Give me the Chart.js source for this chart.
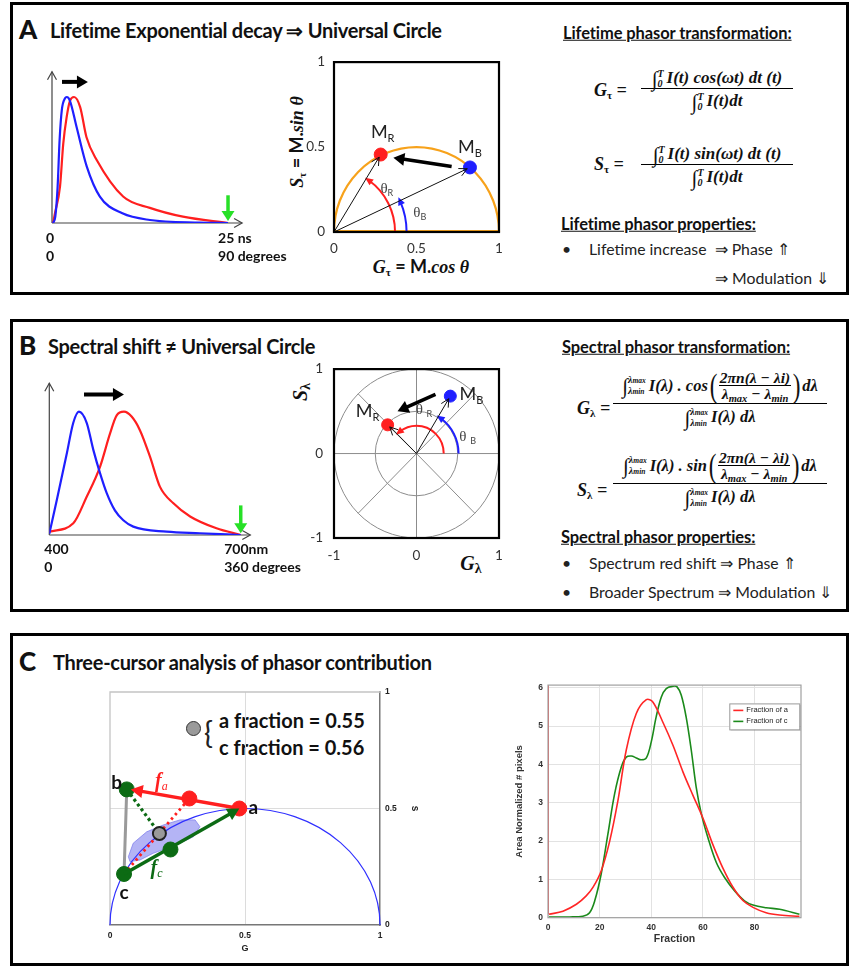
<!DOCTYPE html>
<html>
<head>
<meta charset="utf-8">
<script src="https://cdn.jsdelivr.net/npm/chart.js@4.4.1/dist/chart.umd.min.js"></script>
<style>
html,body{margin:0;padding:0;}
body{width:852px;height:966px;position:relative;background:#fff;overflow:hidden;font-family:"Lato","Open Sans",sans-serif;color:#111;}
#stage{position:absolute;left:0;top:0;width:852px;height:966px;}
.panel{position:absolute;border:3px solid #000;box-sizing:border-box;}
.t{position:absolute;white-space:nowrap;line-height:1;}
.c{transform:translateY(-50%);}
.lt{font-weight:900;font-size:26px;}
.tt{font-weight:bold;font-size:20px;letter-spacing:-0.3px;}
.hd{font-weight:bold;font-size:16.5px;text-decoration:underline;letter-spacing:-0.1px;}
.tx{font-size:15.8px;color:#222;}
.f{font-family:"Liberation Serif","DejaVu Serif",serif;font-weight:bold;font-style:italic;font-size:17px;}
.fb{font-size:16.5px;}
.frac{position:absolute;text-align:center;}
.frac .num{height:20px;line-height:20px;border-bottom:1.4px solid #000;white-space:nowrap;}
.frac .num2{height:34px;display:flex;align-items:center;justify-content:center;border-bottom:1.4px solid #000;white-space:nowrap;}
.frac .den{line-height:20px;padding-top:2px;white-space:nowrap;}
.int{font-size:21px;font-style:italic;font-weight:normal;vertical-align:middle;}
.lim{display:inline-flex;flex-direction:column;font-size:10px;line-height:10px;vertical-align:middle;margin-right:3px;text-align:left;}
.lim .ss{font-size:7.5px;}
.sb{font-size:11px;position:relative;top:3px;font-style:normal;}
.inner{display:inline-flex;flex-direction:column;align-items:center;font-size:15.5px;line-height:15px;}
.inner .in{border-bottom:1.3px solid #000;padding:0 1px;}
.inner .ss{font-size:10.5px;position:relative;top:3px;}
.bp{font-size:33px;font-weight:normal;font-style:normal;line-height:33px;display:inline-block;transform:scaleX(0.7);}
.rot{transform:translate(-50%,-50%) rotate(-90deg);}
.ctr{transform:translate(-50%,-50%);}
canvas{position:absolute;}
</style>
</head>
<body>
<div id="stage">
  <div class="panel" style="left:10px;top:2px;width:839px;height:293px;"></div>
  <div class="panel" style="left:10px;top:319px;width:839px;height:293px;"></div>
  <div class="panel" style="left:10px;top:633px;width:839px;height:333px;"></div>

  <!-- Panel A texts -->
  <div class="t c lt" style="left:19px;top:29px;">A</div>
  <div class="t c tt" style="left:50px;top:30px;">Lifetime Exponential decay ⇒ Universal Circle</div>
  <div class="t c hd" style="left:563px;top:33px;">Lifetime phasor transformation:</div>

  <div class="t c f" style="left:594px;top:90px;font-size:18px;">G<span class="sb">τ</span> =</div>
  <div class="f frac" style="left:641px;top:68px;width:152px;">
    <div class="num"><span class="int">∫</span><span class="lim"><span>T</span><span>0</span></span>I(t) cos(ωt) dt (t)</div>
    <div class="den"><span class="int">∫</span><span class="lim"><span>T</span><span>0</span></span>I(t)dt</div>
  </div>
  <div class="t c f" style="left:594px;top:164px;font-size:18px;">S<span class="sb">τ</span> =</div>
  <div class="f frac" style="left:641px;top:144px;width:152px;">
    <div class="num"><span class="int">∫</span><span class="lim"><span>T</span><span>0</span></span>I(t) sin(ωt) dt (t)</div>
    <div class="den"><span class="int">∫</span><span class="lim"><span>T</span><span>0</span></span>I(t)dt</div>
  </div>

  <div class="t c hd" style="left:561px;top:224px;">Lifetime phasor properties:</div>
  <div class="t c tx" style="left:562px;top:249px;">•</div>
  <div class="t c tx" style="left:589px;top:249px;">Lifetime increase&nbsp; ⇒ Phase ⇑</div>
  <div class="t c tx" style="left:715px;top:278px;">⇒ Modulation ⇓</div>

  <div class="t ctr f" style="left:421px;top:266px;font-size:18px;">G<span class="sb">τ</span><span style="font-family:Lato;font-style:normal"> = M.</span>cos θ</div>
  <div class="t rot f" style="left:296px;top:142px;font-size:18px;">S<span class="sb">τ</span><span style="font-family:Lato;font-style:normal"> = M.</span>sin θ</div>

  <!-- Panel B texts -->
  <div class="t c lt" style="left:19px;top:345px;">B</div>
  <div class="t c tt" style="left:48px;top:346px;">Spectral shift ≠ Universal Circle</div>
  <div class="t c hd" style="left:562px;top:347px;">Spectral phasor transformation:</div>

  <div class="t c f" style="left:577px;top:408px;font-size:18px;">G<span class="sb">λ</span> =</div>
  <div class="f fb frac" style="left:613px;top:369px;width:214px;">
    <div class="num2"><span class="int">∫</span><span class="lim"><span>λ<span class="ss">max</span></span><span>λ<span class="ss">min</span></span></span><span>I(λ) . cos</span><span class="bp">(</span><span class="inner"><span class="in">2πn(λ − λi)</span><span>λ<span class="ss">max</span> − λ<span class="ss">min</span></span></span><span class="bp">)</span><span>dλ</span></div>
    <div class="den" style="padding-top:3px;"><span class="int">∫</span><span class="lim"><span>λ<span class="ss">max</span></span><span>λ<span class="ss">min</span></span></span>I(λ) dλ</div>
  </div>
  <div class="t c f" style="left:577px;top:490px;font-size:18px;">S<span class="sb">λ</span> =</div>
  <div class="f fb frac" style="left:613px;top:449px;width:214px;">
    <div class="num2"><span class="int">∫</span><span class="lim"><span>λ<span class="ss">max</span></span><span>λ<span class="ss">min</span></span></span><span>I(λ) . sin</span><span class="bp">(</span><span class="inner"><span class="in">2πn(λ − λi)</span><span>λ<span class="ss">max</span> − λ<span class="ss">min</span></span></span><span class="bp">)</span><span>dλ</span></div>
    <div class="den" style="padding-top:3px;"><span class="int">∫</span><span class="lim"><span>λ<span class="ss">max</span></span><span>λ<span class="ss">min</span></span></span>I(λ) dλ</div>
  </div>

  <div class="t c hd" style="left:561px;top:537px;">Spectral phasor properties:</div>
  <div class="t c tx" style="left:562px;top:563px;">•</div>
  <div class="t c tx" style="left:589px;top:563px;">Spectrum red shift ⇒ Phase ⇑</div>
  <div class="t c tx" style="left:562px;top:592px;">•</div>
  <div class="t c tx" style="left:589px;top:592px;">Broader Spectrum ⇒ Modulation ⇓</div>

  <div class="t rot f" style="left:300px;top:392px;font-size:20px;">S<span class="sb" style="font-size:14px">λ</span></div>
  <div class="t ctr f" style="left:471px;top:563px;font-size:20px;">G<span class="sb" style="font-size:14px">λ</span></div>

  <!-- Panel C texts -->
  <div class="t c lt" style="left:19px;top:661px;">C</div>
  <div class="t c tt" style="left:53px;top:662px;">Three-cursor analysis of phasor contribution</div>
  <div style="position:absolute;left:186px;top:721px;width:15px;height:15px;border-radius:50%;background:#9a9a9a;border:1.8px solid #333;box-sizing:border-box;"></div>
  <div class="t c" style="left:204px;top:732px;font-size:30px;font-weight:400;color:#222;">{</div>
  <div class="t c" id="fracA" style="left:219px;top:720px;font-size:20px;font-weight:bold;"></div>
  <div class="t c" id="fracC" style="left:219px;top:747px;font-size:20px;font-weight:bold;"></div>
</div>

<script>
// ---------------- DATA ----------------
// Panel A: lifetime decay curves (time ns, normalised intensity)
const lifetimeBlueTime = [0.15, 0.47, 0.8, 1.08, 1.4, 1.85, 2.1, 2.55, 3.5, 4.93, 6.8, 10.0, 13.9, 21.0, 25.0];
const lifetimeBlueIntensity = [0, 0.05, 0.29, 0.66, 0.9, 0.99, 1.0, 0.97, 0.76, 0.45, 0.21, 0.077, 0.024, 0.003, 0];
const lifetimeRedTime = [0.15, 0.43, 1.14, 1.6, 2.08, 2.55, 3.13, 4.0, 4.9, 6.35, 10.1, 13.9, 18.6, 25.0];
const lifetimeRedIntensity = [0, 0.08, 0.29, 0.63, 0.84, 0.97, 1.0, 0.92, 0.68, 0.5, 0.21, 0.12, 0.05, 0];
const lifetimeTickValues = [0, 25];
const lifetimeTickLabels = [['0', '0'], ['25 ns', '90 degrees']];
const lifetimeShiftArrow = [1.42, 5.1, 1.12];      // from t, to t, at intensity
const lifetimeEndMarker = [25, 0.22, 0.015];       // at t, from, to

// Panel A: lifetime phasor plot
const lifetimePhasorNames = ['R', 'B'];
const lifetimePhasorG = [0.283, 0.824];
const lifetimePhasorS = [0.456, 0.380];
const lifetimeShiftG = [0.713, 0.36];
const lifetimeShiftS = [0.386, 0.4375];
const lifetimeArcRadius = [0.37, 0.44];
const lifetimeArcDegrees = [55, 24];
const lifetimeAxisTicks = [0, 0.5, 1];

// Panel B: emission spectra (wavelength nm, normalised intensity)
const spectrumBlueNm = [400, 411.6, 427, 437.6, 446.4, 458.6, 469, 479.6, 490, 502.8, 516, 531.6, 583.9, 636, 700];
const spectrumBlueIntensity = [0.01, 0.28, 0.65, 0.91, 1.0, 0.91, 0.69, 0.5, 0.34, 0.2, 0.12, 0.068, 0.027, 0.014, 0];
const spectrumRedNm = [400, 437.6, 458.6, 479.6, 495, 505.6, 517, 529, 542, 557.8, 573.5, 594.5, 620.7, 662, 700];
const spectrumRedIntensity = [0.027, 0.095, 0.31, 0.555, 0.82, 0.97, 1.0, 0.96, 0.85, 0.635, 0.39, 0.257, 0.15, 0.054, 0];
const spectrumTickValues = [400, 700];
const spectrumTickLabels = [['400', '0'], ['700nm', '360 degrees']];
const spectrumShiftArrow = [454.4, 517, 1.14];
const spectrumEndMarker = [700, 0.24, 0.015];

// Panel B: spectral phasor plot
const spectralPhasorNames = ['R', 'B'];
const spectralPhasorG = [-0.35, 0.41];
const spectralPhasorS = [0.34, 0.68];
const spectralShiftG = [0.23, -0.23];
const spectralShiftS = [0.70, 0.50];
const spectralArcRadius = [0.33, 0.51];
const spectralArcDegrees = [128, 55];
const spectralRings = [0.5, 1];
const spectralSpokes = [45, 135, 225, 315];
const spectralAxisTicks = [-1, 0, 1];

// Panel C: three-cursor phasor plot
const cursorNames = ['a', 'b', 'c'];
const cursorG = [0.479, 0.062, 0.052];
const cursorS = [0.500, 0.582, 0.219];
const fractionPointNames = ['a', 'c'];
const fractionPointG = [0.294, 0.224];
const fractionPointS = [0.543, 0.324];
const pixelG = [0.183];
const pixelS = [0.393];
const pixelFractions = [0.55, 0.56];
const cloudG = [0.068, 0.086, 0.136, 0.197, 0.259, 0.315, 0.333, 0.309, 0.259, 0.210, 0.160, 0.111, 0.074];
const cloudS = [0.293, 0.351, 0.400, 0.429, 0.451, 0.451, 0.422, 0.379, 0.351, 0.329, 0.308, 0.279, 0.272];
const phasorCTicks = [0, 0.5, 1];

// Panel C: fraction histograms
const fractionAX = [0.4, 5.8, 11, 14.8, 17.4, 20.6, 23.9, 27.1, 30.3, 34.2, 38.1, 40.6, 44.5, 48.4, 52.3, 56.1, 60, 63.9, 67.7, 71.6, 75.5, 79.4, 84.5, 89.7, 97.4];
const fractionAY = [0.09, 0.17, 0.35, 0.57, 0.79, 1.22, 2.0, 3.06, 4.37, 5.33, 5.69, 5.63, 5.1, 4.5, 3.8, 3.2, 2.6, 1.9, 1.3, 0.8, 0.45, 0.27, 0.13, 0.07, 0.035];
const fractionASpikeX = [0, 0];
const fractionASpikeY = [0.09, 6.07];
const fractionCX = [0.4, 8.4, 13.5, 16.1, 18.1, 20.6, 23.2, 25.8, 28.4, 30.3, 32.3, 34.2, 36.1, 38.1, 40, 41.9, 43.9, 45.8, 48.4, 49.9, 51.6, 53.5, 55.5, 57.4, 59.4, 61.9, 65.2, 68.4, 72.3, 76.1, 79.4, 84.5, 89.7, 97.4];
const fractionCY = [0.02, 0.02, 0.04, 0.13, 0.44, 1.14, 2.18, 3.23, 3.93, 4.19, 4.22, 4.17, 4.12, 4.17, 4.59, 5.24, 5.76, 5.98, 6.04, 6.03, 5.81, 5.24, 4.37, 3.41, 2.71, 2.10, 1.44, 1.05, 0.70, 0.44, 0.33, 0.26, 0.22, 0.09];
const histXTicks = [0, 20, 40, 60, 80];
const histYTicks = [0, 1, 2, 3, 4, 5, 6];
const histSeriesNames = ['Fraction of a', 'Fraction of c'];

// ---------------- HELPERS ----------------
Chart.defaults.font.family = 'Lato, "Open Sans", sans-serif';
Chart.defaults.animation = false;
Chart.defaults.responsive = false;
Chart.defaults.events = [];
Chart.defaults.plugins.legend.display = false;
Chart.defaults.plugins.tooltip.enabled = false;

const RED = '#ff1f1f', BLUE = '#1f1fff', ORANGE = '#f7a21b', DGREEN = '#0c6b14', LGREEN = '#27e027';

document.getElementById('fracA').textContent = 'a fraction = ' + pixelFractions[0].toFixed(2);
document.getElementById('fracC').textContent = 'c fraction = ' + pixelFractions[1].toFixed(2);

function zip(xs, ys) { return xs.map((x, i) => ({x: x, y: ys[i]})); }
function place(id, r) {
  const c = document.createElement('canvas');
  c.id = id; c.width = r.w; c.height = r.h;
  Object.assign(c.style, {left: r.x + 'px', top: r.y + 'px', width: r.w + 'px', height: r.h + 'px'});
  document.getElementById('stage').appendChild(c);
  return c;
}
function padFor(r, a, ax) {
  ax = Object.assign({left: 0, right: 0, top: 0, bottom: 0}, ax || {});
  return {left: a.l - r.x - ax.left, top: a.t - r.y - ax.top, right: r.x + r.w - a.r - ax.right, bottom: r.y + r.h - a.b - ax.bottom};
}
function fixSize(n) { return s => { if (s.isHorizontal()) s.height = n; else s.width = n; }; }
function setTicks(vals) { return s => { s.ticks = vals.map(v => ({value: v})); }; }

function arrow(ctx, x1, y1, x2, y2, o) {
  o = Object.assign({color: '#000', width: 1, head: 8, headW: null, open: false, dash: null}, o || {});
  const ang = Math.atan2(y2 - y1, x2 - x1);
  const hw = o.headW == null ? o.head * 0.5 : o.headW;
  ctx.save();
  ctx.strokeStyle = o.color; ctx.fillStyle = o.color; ctx.lineWidth = o.width; ctx.lineCap = 'butt';
  if (o.dash) ctx.setLineDash(o.dash);
  const back = o.open ? 0 : o.head * 0.7;
  ctx.beginPath(); ctx.moveTo(x1, y1);
  ctx.lineTo(x2 - Math.cos(ang) * back, y2 - Math.sin(ang) * back); ctx.stroke();
  ctx.setLineDash([]);
  const bx = x2 - Math.cos(ang) * o.head, by = y2 - Math.sin(ang) * o.head;
  const nx = -Math.sin(ang) * hw, ny = Math.cos(ang) * hw;
  ctx.beginPath(); ctx.moveTo(bx + nx, by + ny); ctx.lineTo(x2, y2); ctx.lineTo(bx - nx, by - ny);
  if (o.open) { ctx.lineWidth = Math.max(1, o.width); ctx.stroke(); } else { ctx.closePath(); ctx.fill(); }
  ctx.restore();
}
function arcArrow(ctx, cx, cy, rx, ry, deg, color, width, head) {
  const a1 = deg * Math.PI / 180;
  ctx.save(); ctx.strokeStyle = color; ctx.fillStyle = color; ctx.lineWidth = width;
  ctx.beginPath(); ctx.ellipse(cx, cy, rx, ry, 0, 0, -a1, true); ctx.stroke();
  const ex = cx + rx * Math.cos(a1), ey = cy - ry * Math.sin(a1);
  let tx = -rx * Math.sin(a1), ty = -ry * Math.cos(a1); const L = Math.hypot(tx, ty); tx /= L; ty /= L;
  const tipx = ex + tx * head * 0.6, tipy = ey + ty * head * 0.6;
  const bx = tipx - tx * head, by = tipy - ty * head, nx = -ty * head * 0.45, ny = tx * head * 0.45;
  ctx.beginPath(); ctx.moveTo(tipx, tipy); ctx.lineTo(bx + nx, by + ny); ctx.lineTo(bx - nx, by - ny); ctx.closePath(); ctx.fill();
  ctx.restore();
}
function subLabel(ctx, x, yBase, main, sub, mainFont, subFont, color, subDy) {
  ctx.save(); ctx.fillStyle = color; ctx.textBaseline = 'alphabetic'; ctx.textAlign = 'left';
  ctx.font = mainFont; const w1 = ctx.measureText(main).width;
  ctx.font = subFont; const w2 = ctx.measureText(sub).width;
  const x0 = x - (w1 + w2) / 2;
  ctx.font = mainFont; ctx.fillText(main, x0, yBase);
  ctx.font = subFont; ctx.fillText(sub, x0 + w1, yBase + subDy);
  ctx.restore();
}
function sc(chart) {
  return {X: v => chart.scales.x.getPixelForValue(v), Y: v => chart.scales.y.getPixelForValue(v)};
}

// ---------------- Curve panels (A1, B1) ----------------
function curvePanel(id, rect, area, xmin, xmax, ymax, blue, red, tickVals, tickLabels, tickDx, labelDy, shift, marker) {
  const decor = {
    id: 'decor_' + id,
    beforeDatasetsDraw(chart) {
      const {X, Y} = sc(chart); const ctx = chart.ctx;
      arrow(ctx, X(xmin), Y(0), X(xmax), Y(0), {color: '#444', width: 1.2, head: 8, headW: 4.5, open: true});
      arrow(ctx, X(xmin), Y(0), X(xmin), Y(ymax), {color: '#444', width: 1.2, head: 8, headW: 4.5, open: true});
    },
    afterDatasetsDraw(chart) {
      const {X, Y} = sc(chart); const ctx = chart.ctx;
      arrow(ctx, X(shift[0]), Y(shift[2]), X(shift[1]), Y(shift[2]), {color: '#000', width: 4, head: 11, headW: 6.5});
      arrow(ctx, X(marker[0]), Y(marker[1]), X(marker[0]), Y(marker[2]), {color: LGREEN, width: 3.5, head: 10, headW: 6.5});
      ctx.save(); ctx.font = 'bold 14px Lato'; ctx.fillStyle = '#111'; ctx.textBaseline = 'middle'; ctx.textAlign = 'left';
      tickVals.forEach((v, i) => tickLabels[i].forEach((ln, j) => ctx.fillText(ln, X(v) + tickDx[i], Y(0) + labelDy[0] + j * labelDy[1])));
      ctx.restore();
    }
  };
  new Chart(place(id, rect), {
    type: 'line',
    data: {datasets: [
      {label: 'blue', data: blue, borderColor: BLUE, borderWidth: 2.2, pointRadius: 0, cubicInterpolationMode: 'monotone', fill: false},
      {label: 'red', data: red, borderColor: RED, borderWidth: 2.2, pointRadius: 0, cubicInterpolationMode: 'monotone', fill: false}
    ]},
    options: {
      layout: {padding: padFor(rect, area)},
      scales: {x: {type: 'linear', min: xmin, max: xmax, display: false}, y: {type: 'linear', min: 0, max: ymax, display: false}}
    },
    plugins: [decor]
  });
}

curvePanel('a1', {x: 20, y: 50, w: 290, h: 230}, {l: 52, t: 71.8, r: 242.1, b: 223}, 0, 27, 1.2,
  zip(lifetimeBlueTime, lifetimeBlueIntensity), zip(lifetimeRedTime, lifetimeRedIntensity),
  lifetimeTickValues, lifetimeTickLabels, [-6, -10], [15, 18], lifetimeShiftArrow, lifetimeEndMarker);

curvePanel('b1', {x: 20, y: 355, w: 290, h: 235}, {l: 49.3, t: 383.3, r: 250.3, b: 535}, 400, 715, 1.23,
  zip(spectrumBlueNm, spectrumBlueIntensity), zip(spectrumRedNm, spectrumRedIntensity),
  spectrumTickValues, spectrumTickLabels, [-5, -16.5], [14, 18], spectrumShiftArrow, spectrumEndMarker);

// ---------------- Phasor panels (A2, B2) ----------------
function boxScales(min, max, ticks, leftPad, bottomPad) {
  const tk = {font: {size: 13.5, family: 'Lato'}, color: '#333', padding: 0};
  return {
    x: {type: 'linear', min: min, max: max, afterBuildTicks: setTicks(ticks), afterFit: fixSize(24),
        grid: {display: false, drawTicks: false}, border: {display: false},
        ticks: Object.assign({}, tk, {padding: bottomPad, callback: v => String(v)})},
    y: {type: 'linear', min: min, max: max, afterBuildTicks: setTicks(ticks), afterFit: fixSize(30),
        grid: {display: false, drawTicks: false}, border: {display: false},
        ticks: Object.assign({}, tk, {padding: leftPad, callback: v => String(v)})}
  };
}

// A2
(function () {
  const rect = {x: 300, y: 45, w: 220, h: 235}, area = {l: 334, t: 57, r: 499, b: 232};
  const decor = {
    id: 'decorA2',
    beforeDatasetsDraw(chart) {
      const {X, Y} = sc(chart); const ctx = chart.ctx;
      ctx.save(); ctx.strokeStyle = ORANGE; ctx.lineWidth = 2.2;
      ctx.beginPath(); ctx.ellipse(X(0.5), Y(0), X(1) - X(0.5), Y(0) - Y(0.5), 0, Math.PI, 2 * Math.PI); ctx.stroke();
      ctx.beginPath(); ctx.moveTo(X(0), Y(0) - 1); ctx.lineTo(X(1), Y(0) - 1); ctx.stroke();
      ctx.restore();
      const arcCol = [RED, BLUE];
      lifetimeArcRadius.forEach((r, i) => arcArrow(ctx, X(0), Y(0), X(r) - X(0), Y(0) - Y(r), lifetimeArcDegrees[i], arcCol[i], 2, 8));
    },
    afterDatasetsDraw(chart) {
      const {X, Y} = sc(chart); const ctx = chart.ctx; const a = chart.chartArea;
      lifetimePhasorG.forEach((g, i) => {
        const x2 = X(g), y2 = Y(lifetimePhasorS[i]); const ang = Math.atan2(y2 - Y(0), x2 - X(0));
        arrow(ctx, X(0), Y(0), x2 - Math.cos(ang) * 3, y2 - Math.sin(ang) * 3, {color: '#111', width: 1, head: 8, headW: 4, open: true});
      });
      arrow(ctx, X(lifetimeShiftG[0]), Y(lifetimeShiftS[0]), X(lifetimeShiftG[1]), Y(lifetimeShiftS[1]), {color: '#000', width: 3.6, head: 11, headW: 6.5});
      ctx.save(); ctx.strokeStyle = '#000'; ctx.lineWidth = 2.2; ctx.strokeRect(a.left, a.top, a.right - a.left, a.bottom - a.top); ctx.restore();
      const offs = [[2, -17], [0, -14]];
      lifetimePhasorG.forEach((g, i) => subLabel(ctx, X(g) + offs[i][0], Y(lifetimePhasorS[i]) + offs[i][1], 'M', lifetimePhasorNames[i], '18px Lato', '11px Lato', '#222', 4));
      const thOff = [[0.32, 0.23], [0.52, 0.09]];
      lifetimePhasorNames.forEach((n, i) => subLabel(ctx, X(thOff[i][0]), Y(thOff[i][1]), 'θ', n, '15px "Liberation Serif"', '9px Lato', '#444', 3));
    }
  };
  new Chart(place('a2', rect), {
    type: 'scatter',
    data: {datasets: [
      {data: [{x: lifetimePhasorG[0], y: lifetimePhasorS[0]}], backgroundColor: RED, borderColor: RED, pointRadius: 6.5},
      {data: [{x: lifetimePhasorG[1], y: lifetimePhasorS[1]}], backgroundColor: BLUE, borderColor: BLUE, pointRadius: 6.5}
    ]},
    options: {layout: {padding: padFor(rect, area, {left: 30, bottom: 24})}, scales: boxScales(0, 1, lifetimeAxisTicks, 9, 9)},
    plugins: [decor]
  });
})();

// B2
(function () {
  const rect = {x: 300, y: 350, w: 220, h: 225}, area = {l: 334, t: 362, r: 499, b: 538};
  const decor = {
    id: 'decorB2',
    beforeDatasetsDraw(chart) {
      const {X, Y} = sc(chart); const ctx = chart.ctx; const a = chart.chartArea;
      ctx.save(); ctx.strokeStyle = '#8c8c8c'; ctx.lineWidth = 1;
      spectralRings.forEach(r => { ctx.beginPath(); ctx.ellipse(X(0), Y(0), X(r) - X(0), Y(0) - Y(r), 0, 0, 2 * Math.PI); ctx.stroke(); });
      ctx.beginPath(); ctx.moveTo(a.left, Y(0)); ctx.lineTo(a.right, Y(0)); ctx.moveTo(X(0), a.top); ctx.lineTo(X(0), a.bottom); ctx.stroke();
      spectralSpokes.forEach(d => {
        const t = d * Math.PI / 180; ctx.beginPath(); ctx.moveTo(X(0), Y(0)); ctx.lineTo(X(Math.cos(t)), Y(Math.sin(t))); ctx.stroke();
      });
      ctx.restore();
      const arcCol = [RED, BLUE];
      spectralArcRadius.forEach((r, i) => arcArrow(ctx, X(0), Y(0), X(r) - X(0), Y(0) - Y(r), spectralArcDegrees[i], arcCol[i], 2, 8));
    },
    afterDatasetsDraw(chart) {
      const {X, Y} = sc(chart); const ctx = chart.ctx; const a = chart.chartArea;
      spectralPhasorG.forEach((g, i) => {
        const x2 = X(g), y2 = Y(spectralPhasorS[i]); const ang = Math.atan2(y2 - Y(0), x2 - X(0));
        arrow(ctx, X(0), Y(0), x2 - Math.cos(ang) * 3, y2 - Math.sin(ang) * 3, {color: '#111', width: 1, head: 8, headW: 4, open: true});
      });
      arrow(ctx, X(spectralShiftG[0]), Y(spectralShiftS[0]), X(spectralShiftG[1]), Y(spectralShiftS[1]), {color: '#000', width: 3.6, head: 11, headW: 6.5});
      ctx.save(); ctx.strokeStyle = '#000'; ctx.lineWidth = 2.2; ctx.strokeRect(a.left, a.top, a.right - a.left, a.bottom - a.top); ctx.restore();
      const offs = [[-20, -8], [21, 4]];
      spectralPhasorG.forEach((g, i) => subLabel(ctx, X(g) + offs[i][0], Y(spectralPhasorS[i]) + offs[i][1], 'M', spectralPhasorNames[i], '18px Lato', '11px Lato', '#222', 4));
      const thOff = [[0.09, 0.47], [0.62, 0.15]];
      spectralPhasorNames.forEach((n, i) => subLabel(ctx, X(thOff[i][0]), Y(thOff[i][1]), 'θ ', n, '15px "Liberation Serif"', '9px Lato', '#444', 3));
    }
  };
  new Chart(place('b2', rect), {
    type: 'scatter',
    data: {datasets: [
      {data: [{x: spectralPhasorG[0], y: spectralPhasorS[0]}], backgroundColor: RED, borderColor: RED, pointRadius: 6},
      {data: [{x: spectralPhasorG[1], y: spectralPhasorS[1]}], backgroundColor: BLUE, borderColor: BLUE, pointRadius: 6}
    ]},
    options: {layout: {padding: padFor(rect, area, {left: 30, bottom: 24})}, scales: boxScales(-1, 1, spectralAxisTicks, 11, 10)},
    plugins: [decor]
  });
})();

// ---------------- C1: three-cursor phasor ----------------
(function () {
  const rect = {x: 90, y: 680, w: 350, h: 284}, area = {l: 110, t: 692, r: 380, b: 925};
  const P = (g, s) => ({x: g, y: s});
  const decor = {
    id: 'decorC1',
    beforeDatasetsDraw(chart) {
      const {X, Y} = sc(chart); const ctx = chart.ctx; const a = chart.chartArea;
      ctx.save();
      ctx.strokeStyle = '#c4c4c4'; ctx.lineWidth = 1.3;
      ctx.beginPath(); ctx.moveTo(a.left, a.bottom); ctx.lineTo(a.left, a.top); ctx.lineTo(a.right, a.top); ctx.stroke();
      ctx.fillStyle = 'rgba(140,140,240,0.65)'; ctx.strokeStyle = 'rgba(125,125,235,0.75)'; ctx.lineWidth = 1;
      ctx.beginPath();
      cloudG.forEach((g, i) => { const x = X(g), y = Y(cloudS[i]); if (i === 0) ctx.moveTo(x, y); else ctx.lineTo(x, y); });
      ctx.closePath(); ctx.fill(); ctx.stroke();
      ctx.strokeStyle = '#2f2fff'; ctx.lineWidth = 1.2;
      ctx.beginPath(); ctx.ellipse(X(0.5), Y(0), X(1) - X(0.5), Y(0) - Y(0.5), 0, Math.PI, 2 * Math.PI); ctx.stroke();
      ctx.strokeStyle = '#9a9a9a'; ctx.lineWidth = 3;
      ctx.beginPath(); ctx.moveTo(X(cursorG[1]), Y(cursorS[1])); ctx.lineTo(X(cursorG[2]), Y(cursorS[2])); ctx.stroke();
      ctx.setLineDash([2.5, 3.5]); ctx.lineWidth = 2.8; ctx.strokeStyle = RED;
      ctx.beginPath(); ctx.moveTo(X(cursorG[2]), Y(cursorS[2])); ctx.lineTo(X(fractionPointG[0]), Y(fractionPointS[0])); ctx.stroke();
      ctx.strokeStyle = DGREEN; ctx.lineWidth = 3.2; ctx.setLineDash([3, 3]);
      ctx.beginPath(); ctx.moveTo(X(cursorG[1]), Y(cursorS[1])); ctx.lineTo(X(pixelG[0]), Y(pixelS[0])); ctx.stroke();
      ctx.restore();
    },
    afterDatasetsDraw(chart) {
      const {X, Y} = sc(chart); const ctx = chart.ctx;
      arrow(ctx, X(cursorG[0]), Y(cursorS[0]), X(cursorG[1]) + 4, Y(cursorS[1]), {color: RED, width: 3.4, head: 12, headW: 6.5});
      arrow(ctx, X(cursorG[2]), Y(cursorS[2]), X(cursorG[0]), Y(cursorS[0]), {color: DGREEN, width: 3.4, head: 12, headW: 6.5});
      ctx.save(); ctx.font = 'bold 19px Lato'; ctx.fillStyle = '#111'; ctx.textBaseline = 'middle'; ctx.textAlign = 'center';
      const offs = [[14, -1], [-10, -7], [0, 19]];
      cursorNames.forEach((n, i) => ctx.fillText(n, X(cursorG[i]) + offs[i][0], Y(cursorS[i]) + offs[i][1]));
      ctx.restore();
      const fOff = [[-28, -11], [-14, 24]], fCol = [RED, DGREEN];
      fractionPointNames.forEach((n, i) => subLabel(ctx, X(fractionPointG[i]) + fOff[i][0], Y(fractionPointS[i]) + fOff[i][1], 'f', n,
        'bold italic 20px "Liberation Serif"', 'italic 12px "Liberation Serif"', fCol[i], 3));
    }
  };
  const tickFont = {size: 8.5, weight: 'bold', family: '"Liberation Sans", Arial, sans-serif'};
  new Chart(place('c1', rect), {
    type: 'scatter',
    data: {datasets: [
      {data: [P(cursorG[0], cursorS[0]), P(fractionPointG[0], fractionPointS[0])], backgroundColor: RED, borderColor: RED, pointRadius: 7.5},
      {data: [P(cursorG[1], cursorS[1]), P(cursorG[2], cursorS[2]), P(fractionPointG[1], fractionPointS[1])], backgroundColor: DGREEN, borderColor: DGREEN, pointRadius: 7.5},
      {data: [P(pixelG[0], pixelS[0])], backgroundColor: '#9a9a9a', borderColor: '#222', borderWidth: 2, pointRadius: 6.5}
    ]},
    options: {
      layout: {padding: padFor(rect, area, {right: 45, bottom: 33})},
      scales: {
        x: {type: 'linear', min: 0, max: 1, afterBuildTicks: setTicks(phasorCTicks), afterFit: fixSize(33),
            grid: {color: c => c.tick && c.tick.value === 0.5 ? '#dcdcdc' : 'rgba(0,0,0,0)', drawTicks: false},
            border: {color: '#777', width: 1.5},
            ticks: {font: tickFont, color: '#222', padding: 6, callback: v => String(v)},
            title: {display: true, text: 'G', font: {size: 9, weight: 'bold', family: '"Liberation Sans", Arial'}, color: '#222'}},
        y: {type: 'linear', position: 'right', min: 0, max: 1, afterBuildTicks: setTicks(phasorCTicks), afterFit: fixSize(45),
            grid: {color: c => c.tick && c.tick.value === 0.5 ? '#dcdcdc' : 'rgba(0,0,0,0)', drawTicks: false},
            border: {color: '#777', width: 1.5},
            ticks: {font: tickFont, color: '#222', padding: 5, callback: v => String(v)},
            title: {display: true, text: 's', font: {size: 10, weight: 'bold', family: '"Liberation Sans", Arial'}, color: '#222'}}
      }
    },
    plugins: [decor]
  });
})();

// ---------------- C2: histogram ----------------
(function () {
  const rect = {x: 500, y: 675, w: 330, h: 288}, area = {l: 548, t: 685, r: 801, b: 917.7};
  const cols = ['#ff2626', '#1b8a1b'];
  const decor = {
    id: 'decorC2',
    afterDatasetsDraw(chart) {
      const ctx = chart.ctx; const a = chart.chartArea;
      ctx.save();
      ctx.strokeStyle = '#a0a0a0'; ctx.lineWidth = 1.2; ctx.strokeRect(a.left, a.top, a.right - a.left, a.bottom - a.top);
      const lw = 70, lh = 26, lx = a.right - 1.7 - lw, ly = a.top + 18.3;
      ctx.fillStyle = 'rgba(0,0,0,0.12)'; ctx.fillRect(lx + 1.5, ly + 1.5, lw, lh);
      ctx.fillStyle = '#fff'; ctx.fillRect(lx, ly, lw, lh);
      ctx.strokeStyle = '#9a9a9a'; ctx.lineWidth = 1; ctx.strokeRect(lx + 0.5, ly + 0.5, lw, lh);
      ctx.font = '7.5px "Liberation Sans", Arial'; ctx.textBaseline = 'middle'; ctx.textAlign = 'left';
      histSeriesNames.forEach((n, i) => {
        const y = ly + 7 + i * 11;
        ctx.strokeStyle = chart.data.datasets[i].borderColor; ctx.lineWidth = 1.6;
        ctx.beginPath(); ctx.moveTo(lx + 4, y); ctx.lineTo(lx + 14, y); ctx.stroke();
        ctx.fillStyle = '#222'; ctx.fillText(n, lx + 17, y);
      });
      ctx.restore();
    }
  };
  const tickFont = {size: 8.5, weight: 'bold', family: '"Liberation Sans", Arial, sans-serif'};
  new Chart(place('c2', rect), {
    type: 'line',
    data: {datasets: [
      {label: histSeriesNames[0], data: zip(fractionAX, fractionAY), borderColor: cols[0], borderWidth: 1.6, pointRadius: 0, tension: 0.35, fill: false},
      {label: histSeriesNames[1], data: zip(fractionCX, fractionCY), borderColor: cols[1], borderWidth: 1.6, pointRadius: 0, tension: 0.35, fill: false},
      {label: histSeriesNames[0] + ' (bin 0)', data: zip(fractionASpikeX, fractionASpikeY), borderColor: cols[0], borderWidth: 1.5, pointRadius: 0, fill: false}
    ]},
    options: {
      layout: {padding: padFor(rect, area, {left: 40, bottom: 32})},
      scales: {
        x: {type: 'linear', min: 0, max: 98, afterBuildTicks: setTicks(histXTicks), afterFit: fixSize(32),
            grid: {color: '#e2e2e2', drawTicks: false}, border: {display: false},
            ticks: {font: tickFont, color: '#333', padding: 5},
            title: {display: true, text: 'Fraction', font: {size: 10.5, weight: 'bold', family: '"Liberation Sans", Arial'}, color: '#333'}},
        y: {type: 'linear', min: 0, max: 6.07, afterBuildTicks: setTicks(histYTicks), afterFit: fixSize(40),
            grid: {color: '#e2e2e2', drawTicks: false}, border: {display: false},
            ticks: {font: tickFont, color: '#333', padding: 5},
            title: {display: true, text: 'Area Normalized # pixels', padding: {top: 6, bottom: 4}, font: {size: 9.5, weight: 'bold', family: '"Liberation Sans", Arial'}, color: '#333'}}
      }
    },
    plugins: [decor]
  });
})();
</script>
</body>
</html>
